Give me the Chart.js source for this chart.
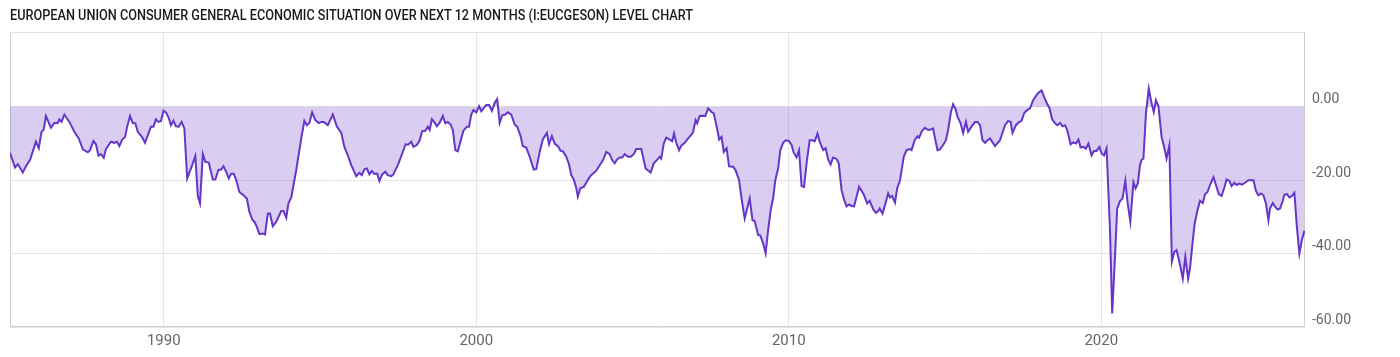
<!DOCTYPE html>
<html>
<head>
<meta charset="utf-8">
<script src="https://cdn.jsdelivr.net/npm/chart.js@4.4.0/dist/chart.umd.min.js"></script>
<style>
  html, body { margin: 0; padding: 0; background: #fff; }
  #wrap { position: relative; width: 1400px; height: 357px; overflow: hidden; }
  #title { position: absolute; left: 10px; top: 7px; font-family: Roboto, sans-serif; font-size: 14px; font-weight: 500; color: #1a1a1a; white-space: nowrap; transform-origin: 0 0; }
  canvas { position: absolute; left: 0; top: 0; }
</style>
</head>
<body>
<div id="wrap">
  <canvas id="eucgeson" width="1400" height="357"></canvas>
  <div id="title">EUROPEAN UNION CONSUMER GENERAL ECONOMIC SITUATION OVER NEXT 12 MONTHS (I:EUCGESON) LEVEL CHART</div>
</div>
<script>
// dates as decimal years
const dates = [
  1985.08, 1985.24, 1985.33, 1985.49, 1985.59, 1985.72, 1985.91, 1986.00, 1986.09, 1986.16,
  1986.23, 1986.39, 1986.50, 1986.61, 1986.66, 1986.73, 1986.82, 1986.98, 1987.14, 1987.28,
  1987.41, 1987.57, 1987.64, 1987.75, 1987.83, 1987.91, 1987.99, 1988.08, 1988.15, 1988.31,
  1988.42, 1988.50, 1988.58, 1988.67, 1988.76, 1988.83, 1988.92, 1989.01, 1989.09, 1989.17,
  1989.31, 1989.40, 1989.51, 1989.59, 1989.67, 1989.75, 1989.83, 1989.91, 1989.99, 1990.07,
  1990.16, 1990.23, 1990.31, 1990.39, 1990.48, 1990.57, 1990.66, 1990.75, 1990.91, 1991.01,
  1991.09, 1991.16, 1991.25, 1991.33, 1991.44, 1991.57, 1991.65, 1991.75, 1991.84, 1991.91,
  1992.00, 1992.08, 1992.16, 1992.24, 1992.32, 1992.42, 1992.55, 1992.66, 1992.74, 1992.83,
  1992.90, 1992.98, 1993.06, 1993.17, 1993.24, 1993.33, 1993.40, 1993.49, 1993.60, 1993.76,
  1993.83, 1993.92, 1993.99, 1994.08, 1994.24, 1994.40, 1994.50, 1994.58, 1994.66, 1994.75,
  1994.85, 1994.96, 1995.04, 1995.12, 1995.25, 1995.41, 1995.54, 1995.68, 1995.78, 1995.89,
  1996.00, 1996.16, 1996.26, 1996.34, 1996.42, 1996.50, 1996.58, 1996.66, 1996.74, 1996.83,
  1996.90, 1996.99, 1997.09, 1997.17, 1997.28, 1997.35, 1997.49, 1997.65, 1997.74, 1997.82,
  1997.92, 1997.99, 1998.10, 1998.19, 1998.27, 1998.37, 1998.45, 1998.51, 1998.58, 1998.67,
  1998.74, 1998.83, 1998.93, 1999.01, 1999.09, 1999.18, 1999.25, 1999.33, 1999.41, 1999.52,
  1999.59, 1999.70, 1999.77, 1999.84, 1999.91, 2000.00, 2000.09, 2000.16, 2000.23, 2000.32,
  2000.41, 2000.50, 2000.59, 2000.67, 2000.75, 2000.83, 2000.93, 2001.01, 2001.12, 2001.23,
  2001.31, 2001.42, 2001.49, 2001.60, 2001.71, 2001.84, 2001.92, 2002.03, 2002.13, 2002.26,
  2002.33, 2002.42, 2002.51, 2002.61, 2002.70, 2002.77, 2002.88, 2002.97, 2003.04, 2003.12,
  2003.20, 2003.25, 2003.33, 2003.44, 2003.52, 2003.63, 2003.73, 2003.84, 2003.95, 2004.06,
  2004.16, 2004.27, 2004.35, 2004.43, 2004.51, 2004.59, 2004.67, 2004.75, 2004.86, 2004.94,
  2005.04, 2005.12, 2005.28, 2005.42, 2005.58, 2005.68, 2005.80, 2005.87, 2005.92, 2006.00,
  2006.08, 2006.17, 2006.27, 2006.33, 2006.40, 2006.49, 2006.56, 2006.67, 2006.78, 2006.91,
  2006.94, 2007.02, 2007.07, 2007.15, 2007.26, 2007.33, 2007.42, 2007.53, 2007.60, 2007.66,
  2007.74, 2007.77, 2007.85, 2007.92, 2008.01, 2008.09, 2008.22, 2008.30, 2008.41, 2008.49,
  2008.59, 2008.67, 2008.75, 2008.84, 2008.91, 2009.02, 2009.09, 2009.18, 2009.26, 2009.34,
  2009.43, 2009.50, 2009.57, 2009.66, 2009.73, 2009.82, 2009.90, 2010.00, 2010.09, 2010.16,
  2010.25, 2010.33, 2010.41, 2010.49, 2010.57, 2010.67, 2010.76, 2010.83, 2010.92, 2010.99,
  2011.10, 2011.18, 2011.26, 2011.34, 2011.42, 2011.53, 2011.60, 2011.69, 2011.76, 2011.85,
  2011.93, 2012.01, 2012.09, 2012.17, 2012.25, 2012.33, 2012.41, 2012.51, 2012.59, 2012.70,
  2012.79, 2012.86, 2012.91, 2013.00, 2013.08, 2013.18, 2013.24, 2013.31, 2013.40, 2013.47,
  2013.56, 2013.61, 2013.68, 2013.77, 2013.88, 2013.93, 2014.03, 2014.12, 2014.17, 2014.26,
  2014.36, 2014.46, 2014.54, 2014.62, 2014.68, 2014.76, 2014.84, 2014.94, 2015.03, 2015.10,
  2015.19, 2015.26, 2015.34, 2015.40, 2015.50, 2015.58, 2015.67, 2015.74, 2015.85, 2015.96,
  2016.04, 2016.12, 2016.20, 2016.28, 2016.36, 2016.44, 2016.60, 2016.76, 2016.92, 2017.02,
  2017.10, 2017.16, 2017.27, 2017.38, 2017.45, 2017.54, 2017.63, 2017.72, 2017.82, 2017.96,
  2018.09, 2018.17, 2018.25, 2018.34, 2018.43, 2018.52, 2018.60, 2018.68, 2018.76, 2018.84,
  2018.91, 2019.02, 2019.10, 2019.19, 2019.27, 2019.34, 2019.43, 2019.51, 2019.59, 2019.69,
  2019.77, 2019.85, 2019.94, 2020.01, 2020.09, 2020.17, 2020.28, 2020.35, 2020.44, 2020.51,
  2020.60, 2020.68, 2020.77, 2020.84, 2020.93, 2021.03, 2021.10, 2021.17, 2021.24, 2021.29,
  2021.35, 2021.43, 2021.52, 2021.60, 2021.68, 2021.75, 2021.83, 2021.93, 2022.01, 2022.09,
  2022.18, 2022.26, 2022.34, 2022.41, 2022.50, 2022.61, 2022.69, 2022.78, 2022.84, 2022.92,
  2022.99, 2023.08, 2023.16, 2023.25, 2023.32, 2023.40, 2023.48, 2023.59, 2023.67, 2023.76,
  2023.85, 2023.94, 2024.01, 2024.10, 2024.17, 2024.26, 2024.33, 2024.42, 2024.51, 2024.60,
  2024.71, 2024.87, 2024.95, 2025.03, 2025.11, 2025.19, 2025.27, 2025.35, 2025.40, 2025.49,
  2025.56, 2025.65, 2025.72, 2025.81, 2025.86, 2025.94, 2026.02, 2026.10, 2026.18, 2026.26,
  2026.34, 2026.42, 2026.50
];
const values = [
  -12.5, -16.5, -15.6, -17.9, -16.2, -14.5, -9.5, -11.3, -6.8, -6.2,
  -2.5, -5.7, -4.4, -4.4, -3.4, -4.1, -2.1, -4.1, -6.8, -8.6,
  -11.6, -12.4, -11.8, -9.3, -10.2, -13.3, -12.9, -13.9, -11.5, -9.5,
  -9.8, -9.5, -10.7, -8.9, -8.3, -5.4, -2.5, -4.4, -4.5, -6.8,
  -8.3, -9.8, -7.3, -5.4, -5.4, -3.4, -4.1, -3.9, -1.1, -1.5,
  -3.0, -5.0, -3.8, -5.3, -5.4, -4.1, -5.9, -19.5, -15.9, -13.4,
  -24.3, -26.3, -12.9, -15.0, -15.2, -19.8, -19.8, -17.2, -17.1, -16.2,
  -17.7, -19.5, -18.2, -18.2, -20.0, -23.2, -24.1, -25.0, -28.6, -30.7,
  -31.3, -32.7, -34.7, -34.5, -34.8, -29.1, -29.1, -32.5, -31.3, -28.4,
  -28.4, -30.2, -26.3, -24.7, -17.2, -8.6, -3.8, -5.0, -4.4, -1.5,
  -3.6, -4.4, -4.1, -4.1, -5.0, -2.1, -5.4, -7.1, -10.9, -13.2,
  -15.9, -18.9, -18.0, -18.6, -17.0, -16.8, -18.4, -17.5, -18.3, -18.2,
  -20.2, -18.4, -17.7, -18.6, -18.9, -18.4, -15.9, -12.3, -10.2, -10.3,
  -9.5, -10.9, -10.4, -9.1, -6.6, -6.5, -5.4, -6.3, -3.4, -4.3,
  -5.3, -4.3, -2.5, -4.5, -4.1, -4.8, -6.3, -11.8, -12.1, -8.6,
  -6.5, -5.4, -5.4, -2.1, -0.9, -1.5, 0.2, -1.2, -0.4, 0.5,
  0.5, -1.1, 1.1, 2.1, -4.4, -2.3, -2.1, -1.5, -2.1, -4.8,
  -5.4, -8.0, -10.7, -11.1, -13.6, -17.1, -17.0, -12.3, -8.9, -7.1,
  -10.2, -8.0, -10.0, -10.7, -12.0, -12.1, -13.6, -15.7, -18.6, -19.8,
  -22.1, -24.5, -22.2, -21.8, -20.7, -19.1, -18.2, -17.4, -15.9, -14.5,
  -12.3, -12.9, -14.5, -15.4, -14.3, -13.8, -13.8, -12.9, -13.6, -13.6,
  -12.9, -11.5, -11.5, -16.8, -17.9, -15.4, -14.3, -13.6, -14.1, -10.0,
  -8.4, -8.8, -9.4, -7.3, -9.8, -11.8, -10.6, -9.8, -8.6, -7.3,
  -6.8, -3.6, -4.5, -2.5, -2.4, -2.5, -0.4, -1.4, -1.8, -4.1,
  -7.3, -8.9, -8.2, -12.3, -11.3, -16.2, -16.3, -17.3, -20.0, -25.0,
  -30.4, -27.7, -25.0, -30.9, -31.1, -34.9, -35.1, -37.2, -39.9, -33.6,
  -27.7, -25.0, -20.0, -16.8, -11.8, -9.8, -9.1, -9.3, -10.4, -12.5,
  -13.8, -11.8, -21.6, -21.8, -15.4, -9.1, -9.1, -9.4, -7.3, -9.5,
  -11.8, -11.3, -14.3, -15.7, -13.8, -14.2, -15.4, -22.7, -25.0, -27.1,
  -26.6, -27.0, -27.1, -24.5, -21.8, -22.9, -24.1, -26.3, -25.6, -27.9,
  -28.9, -28.4, -27.7, -29.1, -26.8, -23.6, -24.7, -24.3, -26.1, -22.2,
  -20.0, -17.3, -13.6, -11.8, -11.5, -11.8, -9.1, -8.0, -8.4, -6.6,
  -5.7, -6.3, -6.2, -5.9, -8.6, -11.8, -11.6, -10.4, -9.1, -6.3,
  -1.4, 0.7, -0.7, -2.7, -4.5, -7.1, -4.1, -6.8, -5.4, -4.1,
  -4.1, -5.0, -9.1, -9.8, -9.1, -8.6, -10.7, -9.1, -5.0, -3.9,
  -4.1, -7.1, -5.0, -4.1, -3.8, -1.6, -0.9, -0.4, 1.8, 3.6,
  4.5, 2.7, 1.2, -0.3, -3.4, -4.5, -5.0, -4.4, -5.3, -5.0,
  -6.3, -10.2, -9.7, -10.0, -8.9, -11.1, -10.9, -11.4, -10.0, -13.2,
  -12.0, -12.0, -10.9, -12.7, -13.2, -11.3, -33.6, -56.3, -40.9, -27.7,
  -25.7, -25.0, -20.2, -25.9, -31.3, -20.6, -22.2, -20.9, -15.9, -14.5,
  -14.1, -1.8, 5.0, 1.4, -1.4, 1.8, 0.2, -8.2, -10.9, -14.1,
  -10.4, -42.2, -39.5, -39.0, -42.2, -46.8, -40.9, -46.8, -44.0, -37.2,
  -31.8, -28.2, -25.6, -26.2, -23.8, -23.2, -21.3, -19.2, -21.3, -23.8,
  -24.3, -22.0, -19.8, -20.2, -21.6, -20.7, -21.3, -20.9, -21.2, -20.7,
  -20.0, -20.0, -22.9, -24.1, -23.6, -24.1, -26.3, -30.9, -27.7, -26.2,
  -27.2, -28.0, -27.7, -25.6, -23.9, -23.8, -24.7, -24.3, -23.4, -32.7,
  -40.0, -36.3, -33.8
];
const yearTicks = [1990, 2000, 2010, 2020];
const valueTicks = [-60, -40, -20, 0];

const lineColor = '#6636c9';
const fillColor = 'rgba(102, 54, 201, 0.25)';

// squeeze the title to the narrow width of the original
const title = document.getElementById('title');
title.style.transform = 'scaleX(' + (683 / title.getBoundingClientRect().width) + ')';

const points = dates.map((d, i) => ({ x: d, y: values[i] }));

// plot frame: darker left/bottom/right, light top
const frame = {
  id: 'frame',
  beforeDatasetsDraw(chart) {
    const { ctx, chartArea: a } = chart;
    ctx.save();
    ctx.lineWidth = 1;
    ctx.strokeStyle = '#e2e2e2';
    ctx.beginPath();
    ctx.moveTo(a.left, a.top + 0.5);
    ctx.lineTo(a.right, a.top + 0.5);
    ctx.stroke();
    ctx.strokeStyle = '#cfcfcf';
    ctx.beginPath();
    ctx.moveTo(a.left + 0.5, a.top);
    ctx.lineTo(a.left + 0.5, a.bottom - 0.5);
    ctx.lineTo(a.right - 0.5, a.bottom - 0.5);
    ctx.lineTo(a.right - 0.5, a.top);
    ctx.stroke();
    ctx.restore();
  }
};

new Chart(document.getElementById('eucgeson').getContext('2d'), {
  type: 'line',
  data: {
    datasets: [{
      data: points,
      borderColor: lineColor,
      backgroundColor: fillColor,
      fill: 'origin',
      borderWidth: 2,
      pointRadius: 0,
      tension: 0
    }]
  },
  options: {
    responsive: false,
    animation: false,
    layout: { padding: { left: 10, top: 32, right: 0, bottom: 0 } },
    plugins: { legend: { display: false }, tooltip: { enabled: false } },
    scales: {
      x: {
        type: 'linear',
        min: 1985.08,
        max: 2026.52,
        afterBuildTicks: s => { s.ticks = yearTicks.map(v => ({ value: v })); },
        afterFit: s => { s.height = 30; },
        grid: { color: '#e4e4e4', drawTicks: false },
        border: { display: false },
        ticks: { callback: v => String(v), color: '#666', font: { family: 'Roboto', size: 15 }, padding: 5, maxRotation: 0, autoSkip: false }
      },
      y: {
        position: 'right',
        min: -60,
        max: 20.4,
        afterBuildTicks: s => { s.ticks = valueTicks.map(v => ({ value: v })); },
        afterFit: s => { s.width = 95; },
        grid: { color: '#e4e4e4', drawTicks: false },
        border: { display: false },
        ticks: { callback: v => v.toFixed(2), color: '#666', font: { family: 'Roboto', size: 14 }, padding: 7, labelOffset: -7 }
      }
    }
  },
  plugins: [frame]
});
</script>
</body>
</html>
